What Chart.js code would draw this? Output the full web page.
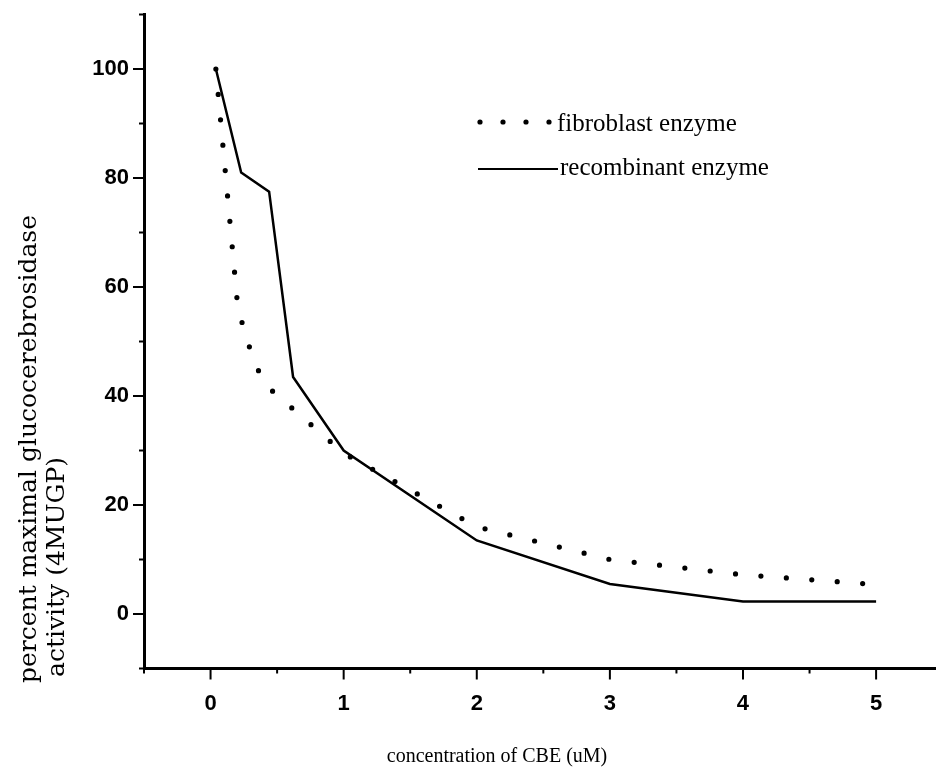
<!DOCTYPE html>
<html>
<head>
<meta charset="utf-8">
<script src="https://cdn.jsdelivr.net/npm/chart.js@4.4.0/dist/chart.umd.min.js"></script>
<style>
    body { margin: 0; background: #fff; }
    #wrap { width: 936px; height: 774px; position: relative; }
</style>
</head>
<body>
<div id="wrap"><canvas id="myChart"></canvas></div>
<script>
"use strict";

// values: CBE concentration (uM) vs % activity
let fibroblastConc = [0.04, 0.2, 0.25, 0.32, 0.4, 1, 2, 3, 4, 5];
let fibroblastActivity = [100, 57.5, 52, 47, 42.3, 29.5, 16, 10, 7.2, 5.4];
let recombinantConc = [0.04, 0.23, 0.44, 0.62, 1, 2, 3, 4, 5];
let recombinantActivity = [100, 81, 77.5, 43.5, 30, 13.5, 5.5, 2.3, 2.3];

let xTickLabels = ["0", "1", "2", "3", "4", "5"];
let yTickLabels = ["0", "20", "40", "60", "80", "100"];
let seriesNames = ["fibroblast enzyme", "recombinant enzyme"];
let xTitle = "concentration of CBE (uM)";
let yTitleLines = ["percent maximal glucocerebrosidase", "activity (4MUGP)"];

// turns two parallel lists into {x, y} points
function toPoints(xs, ys) {
    return xs.map((x, i) => ({ x: x, y: ys[i] }));
}

// major / minor tick marks pointing outwards
const tickMarks = {
    id: "tickMarks",
    afterDraw(chart) {
        let ctx = chart.ctx;
        let area = chart.chartArea;
        let xs = chart.scales.x;
        let ys = chart.scales.y;
        ctx.save();
        ctx.strokeStyle = "#000";
        ctx.lineWidth = 2;
        xs.ticks.forEach(t => {
            let px = xs.getPixelForValue(t.value);
            let len = xTickLabels.includes(String(t.value)) ? 11 : 5;
            ctx.beginPath();
            ctx.moveTo(px, area.bottom);
            ctx.lineTo(px, area.bottom + len);
            ctx.stroke();
        });
        ys.ticks.forEach(t => {
            let py = ys.getPixelForValue(t.value);
            let len = yTickLabels.includes(String(t.value)) ? 11 : 5;
            ctx.beginPath();
            ctx.moveTo(area.left, py);
            ctx.lineTo(area.left - len, py);
            ctx.stroke();
        });
        ctx.restore();
    }
};

// axis titles and the legend, drawn by hand
const textBits = {
    id: "textBits",
    afterDraw(chart) {
        let ctx = chart.ctx;
        ctx.save();
        ctx.fillStyle = "#000";

        // x title
        ctx.font = "20px 'Liberation Serif'";
        ctx.textAlign = "center";
        ctx.textBaseline = "middle";
        ctx.fillText(xTitle, 497, 757);

        // y title, two lines reading upwards
        ctx.font = "25px 'DejaVu Serif'";
        ctx.textAlign = "left";
        let lineX = [29, 57];
        let lineBottom = [683, 677];
        yTitleLines.forEach((txt, i) => {
            ctx.save();
            ctx.translate(lineX[i], lineBottom[i]);
            ctx.rotate(-Math.PI / 2);
            ctx.fillText(txt, 0, 0);
            ctx.restore();
        });

        // legend
        ctx.font = "25px 'Liberation Serif'";
        ctx.textAlign = "left";
        for (let i = 0; i < 4; i++) {
            ctx.beginPath();
            ctx.arc(480 + i * 23, 122, 2.6, 0, Math.PI * 2);
            ctx.fill();
        }
        ctx.fillText(seriesNames[0], 557, 124);
        ctx.strokeStyle = "#000";
        ctx.lineWidth = 2;
        ctx.beginPath();
        ctx.moveTo(478, 169);
        ctx.lineTo(558, 169);
        ctx.stroke();
        ctx.fillText(seriesNames[1], 560, 168);
        ctx.restore();
    }
};

const tickFont = { family: "'Liberation Sans', Arial, sans-serif", size: 22, weight: "bold" };

const ctx = document.getElementById("myChart");

new Chart(ctx, {
    type: "scatter",
    data: {
        datasets: [{
            label: seriesNames[0],
            data: toPoints(fibroblastConc, fibroblastActivity),
            showLine: true,
            borderColor: "#000",
            borderWidth: 5.2,
            borderDash: [0, 25.5],
            borderCapStyle: "round",
            pointRadius: 0,
            tension: 0
        }, {
            label: seriesNames[1],
            data: toPoints(recombinantConc, recombinantActivity),
            showLine: true,
            borderColor: "#000",
            borderWidth: 2.5,
            pointRadius: 0,
            tension: 0
        }]
    },
    options: {
        responsive: true,
        maintainAspectRatio: false,
        animation: false,
        events: [],
        layout: { padding: { top: 14.5, right: 0, left: 0, bottom: 0 } },
        plugins: {
            legend: { display: false },
            tooltip: { enabled: false }
        },
        scales: {
            x: {
                type: "linear",
                min: -0.5,
                max: 5.45,
                grid: { drawOnChartArea: false, drawTicks: false },
                border: { color: "#000", width: 3 },
                ticks: {
                    stepSize: 0.5,
                    includeBounds: false,
                    autoSkip: false,
                    maxRotation: 0,
                    padding: 22,
                    color: "#000",
                    font: tickFont,
                    callback: v => xTickLabels.includes(String(v)) ? String(v) : ""
                },
                afterFit(scale) {
                    scale.height = 105.5;
                    scale.paddingLeft = 0;
                    scale.paddingRight = 0;
                }
            },
            y: {
                min: -10,
                max: 110,
                grid: { drawOnChartArea: false, drawTicks: false },
                border: { color: "#000", width: 3 },
                ticks: {
                    stepSize: 10,
                    includeBounds: false,
                    autoSkip: false,
                    padding: 15,
                    color: "#000",
                    font: tickFont,
                    callback: v => yTickLabels.includes(String(v)) ? String(v) : ""
                },
                afterFit(scale) {
                    scale.width = 144;
                    scale.paddingTop = 0;
                    scale.paddingBottom = 0;
                }
            }
        }
    },
    plugins: [tickMarks, textBits]
});
</script>
</body>
</html>
